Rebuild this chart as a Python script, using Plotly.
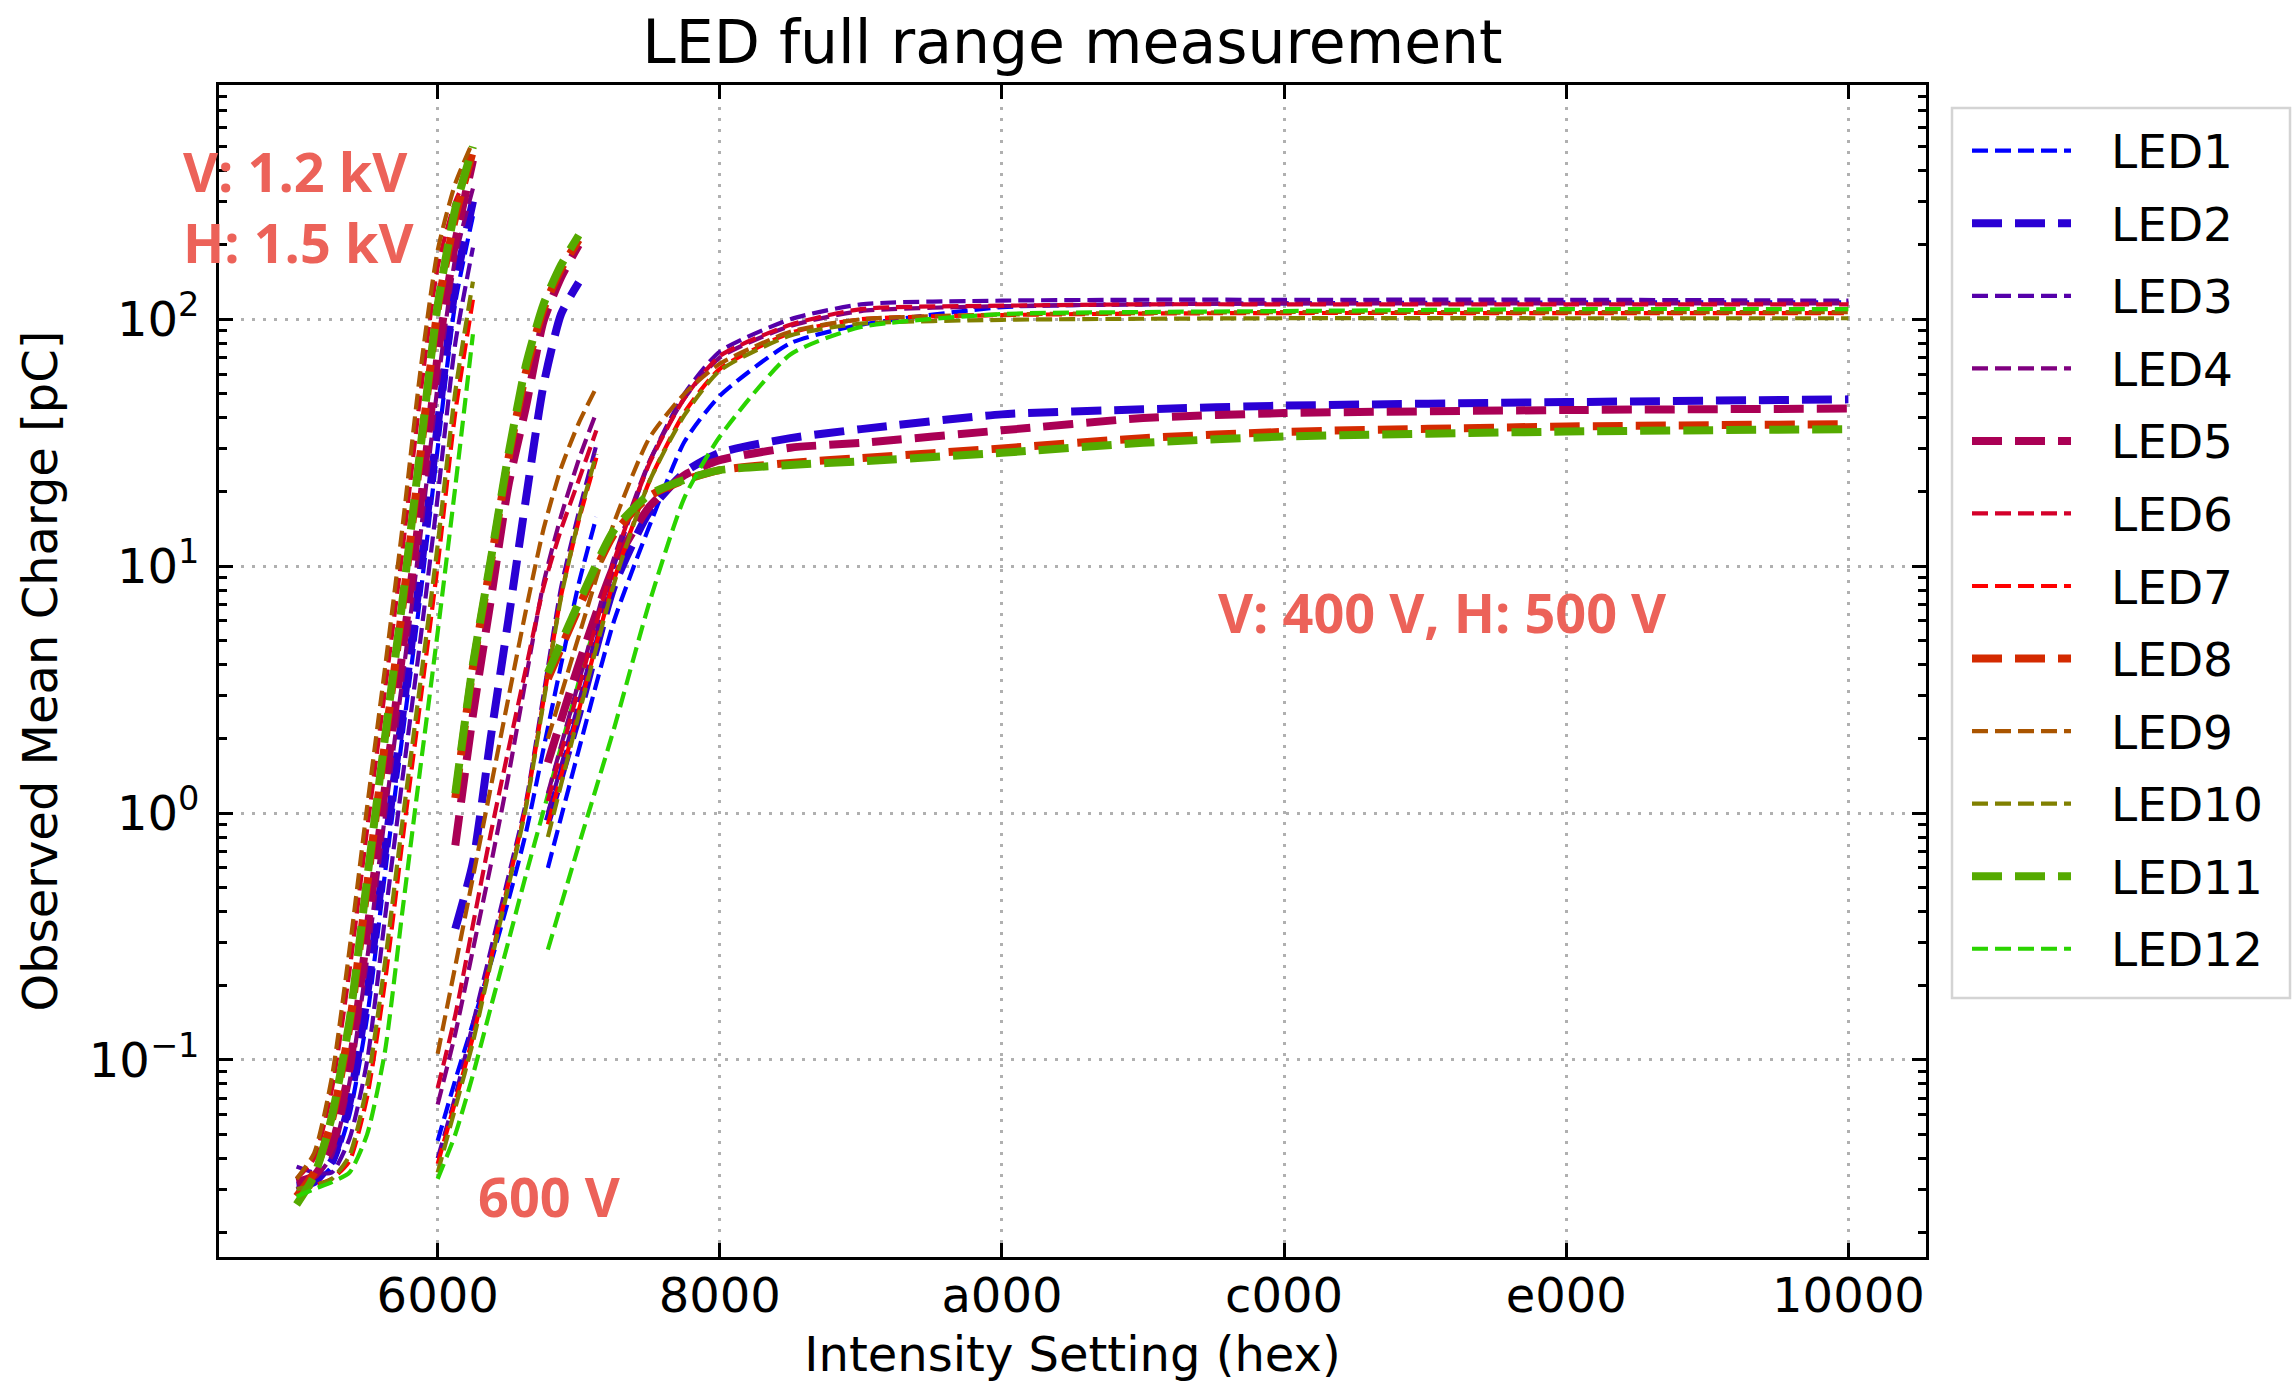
import plotly.graph_objects as go

# ---------------- data ----------------
LEDS = ["LED1", "LED2", "LED3", "LED4", "LED5", "LED6",
        "LED7", "LED8", "LED9", "LED10", "LED11", "LED12"]
COLORS = ["#0000ff", "#2a00d4", "#5500aa", "#800080", "#aa0055", "#d4002a",
          "#ff0000", "#d42a00", "#aa5500", "#808000", "#55aa00", "#2ad400"]
THICK = ["LED2", "LED5", "LED8", "LED11"]

# intensity settings (hex) for each voltage setting
X_HIGH = [0x5000, 0x5200, 0x5400, 0x5600, 0x5800, 0x5A00, 0x5C00, 0x5E00, 0x6000, 0x6200, 0x6400]
X_600_THIN = [0x6000, 0x6200, 0x6400, 0x6600, 0x6800, 0x6A00, 0x6C00, 0x6E00, 0x7000, 0x7200]
X_600_THICK = [0x6200, 0x6400, 0x6600, 0x6800, 0x6A00, 0x6C00, 0x6E00, 0x7000]
X_LOW = [0x6C80, 0x7000, 0x7400, 0x7800, 0x7C00, 0x8000, 0x8800, 0x9000,
         0xA000, 0xB000, 0xC000, 0xE000, 0x10000]

# V: 1.2 kV, H: 1.5 kV
Q_HIGH = {
    "LED1":  [0.030, 0.032, 0.037, 0.060, 0.149, 0.56, 2.05, 7.4, 30, 117, 262],
    "LED2":  [0.031, 0.032, 0.039, 0.067, 0.183, 0.69, 2.5, 9.1, 37, 137, 300],
    "LED3":  [0.037, 0.035, 0.035, 0.048, 0.099, 0.37, 1.37, 4.9, 19.1, 80, 195],
    "LED4":  [0.030, 0.033, 0.041, 0.081, 0.256, 0.96, 3.46, 12.9, 54, 177, 339],
    "LED5":  [0.032, 0.034, 0.045, 0.093, 0.33, 1.24, 4.45, 17, 71, 205, 440],
    "LED6":  [0.033, 0.040, 0.076, 0.23, 0.86, 3.1, 11.5, 48, 163, 300, 420],
    "LED7":  [0.029, 0.031, 0.033, 0.039, 0.071, 0.204, 0.77, 2.77, 10.1, 42, 120],
    "LED8":  [0.028, 0.035, 0.057, 0.137, 0.51, 1.89, 6.8, 27.5, 110, 260, 480],
    "LED9":  [0.033, 0.042, 0.085, 0.28, 1.06, 3.8, 14.3, 60, 190, 355, 525],
    "LED10": [0.030, 0.031, 0.033, 0.041, 0.079, 0.244, 0.92, 3.3, 12.2, 51, 142],
    "LED11": [0.026, 0.034, 0.059, 0.144, 0.54, 1.99, 7.2, 29, 114, 280, 500],
    "LED12": [0.028, 0.030, 0.032, 0.035, 0.050, 0.107, 0.40, 1.49, 5.4, 21, 87],
}

# 600 V
Q_600 = {
    "LED1":  [0.047, 0.083, 0.141, 0.245, 0.44, 0.83, 1.82, 4.0, 8.5, 15.8],
    "LED2":  [0.34, 0.63, 2.0, 6.0, 18.6, 54, 105, 141],
    "LED3":  [0.040, 0.071, 0.140, 0.277, 0.55, 1.10, 3.0, 8.2, 16.5, 31],
    "LED4":  [0.066, 0.128, 0.28, 0.61, 1.4, 3.5, 8.5, 16, 27, 42],
    "LED5":  [0.74, 2.5, 7.2, 21, 44, 98, 148, 200],
    "LED6":  [0.077, 0.152, 0.353, 0.82, 1.79, 3.84, 8.2, 14.1, 22.3, 35.5],
    "LED7":  [0.038, 0.068, 0.124, 0.253, 0.515, 1.07, 2.86, 7.6, 15.3, 27.5],
    "LED8":  [1.15, 3.9, 10.2, 27, 61, 110, 160, 210],
    "LED9":  [0.106, 0.24, 0.55, 1.26, 2.9, 6.6, 14.1, 25, 38, 53],
    "LED10": [0.035, 0.064, 0.118, 0.245, 0.50, 1.05, 2.8, 7.5, 15.5, 28.5],
    "LED11": [1.2, 4.0, 10.5, 28, 65, 115, 166, 219],
    "LED12": [0.033, 0.050, 0.087, 0.162, 0.30, 0.56, 1.02, 1.86, 3.4, 6.0],
}

# V: 400 V, H: 500 V
Q_LOW = {
    "LED1":  [0.6, 1.8, 6.0, 14.5, 32, 49, 80, 95, 112, 115, 116, 117, 117],
    "LED2":  [0.93, 2.5, 8.3, 16.6, 24, 28.8, 33, 35.9, 41.2, 43.2, 44.7, 46.2, 47.4],
    "LED3":  [1.0, 2.8, 10, 26.3, 50, 74, 100, 115, 119, 120, 120, 120, 119],
    "LED4":  [1.2, 3.4, 10.8, 26.5, 48, 70, 94, 108, 113, 115, 116, 116, 116],
    "LED5":  [1.6, 4.0, 10, 17.4, 23.4, 26.9, 30.2, 31.6, 35.5, 39.8, 41.7, 42.9, 43.5],
    "LED6":  [1.12, 3.2, 10.5, 26, 48, 71, 95, 110, 113.5, 115, 115, 115, 115],
    "LED7":  [0.9, 2.6, 8.8, 22, 42, 63, 88, 100, 104, 105.5, 106, 106, 106],
    "LED8":  [3.5, 6.8, 13.5, 19.2, 22.3, 24.5, 26.2, 27.4, 30, 33, 35, 36.8, 37.6],
    "LED9":  [2.0, 5.2, 15, 33, 50, 66, 89, 100, 104.5, 106, 107, 107, 107],
    "LED10": [0.8, 2.5, 8.5, 22, 41, 62, 86, 96, 99.5, 100.5, 101, 101, 101],
    "LED11": [3.7, 7.1, 14, 19.5, 22.4, 24.5, 25.7, 26.6, 28.8, 31.6, 33.5, 35.1, 35.9],
    "LED12": [0.28, 0.74, 2.2, 7.1, 19, 33.5, 72, 93, 105, 107, 108, 110, 110],
}

X_TICKS = [0x6000, 0x8000, 0xA000, 0xC000, 0xE000, 0x10000]
X_TICKTEXT = ["6000", "8000", "a000", "c000", "e000", "10000"]
Y_TICKS = [0.1, 1, 10, 100]
Y_TICKTEXT = ["10<sup>\u22121</sup>", "10<sup>0</sup>", "10<sup>1</sup>", "10<sup>2</sup>"]
Y_MINOR = [m * 10.0 ** e for e in (-2, -1, 0, 1, 2) for m in range(2, 10)]

X_RANGE = [18227.2, 67788.8]
Y_RANGE = [-1.798, 2.949]

# ---------------- styles / geometry ----------------
W, H = 2294, 1382
PL, PR, PT, PB = 219, 1926, 85, 1257
PW, PH = PR - PL, PB - PT
FONT = "DejaVu Sans"
NOTE_COLOR = "#ec6259"


def style(name):
    if name in THICK:
        return dict(width=8, dash="30px,13px")
    return dict(width=4.2, dash="16px,7px")


def px2paper_x(px):
    return (px - PL) / PW


def px2paper_y(py):
    return (PB - py) / PH


fig = go.Figure()

for xs, table in ((X_HIGH, Q_HIGH), (None, Q_600), (X_LOW, Q_LOW)):
    for name, color in zip(LEDS, COLORS):
        if xs is None:
            xv = X_600_THICK if name in THICK else X_600_THIN
        else:
            xv = xs
        st = style(name)
        fig.add_trace(go.Scatter(
            x=xv, y=table[name], mode="lines", name=name, showlegend=False,
            line=dict(color=color, width=st["width"], dash=st["dash"],
                      shape="spline", smoothing=0.6),
            hoverinfo="skip",
        ))

# ---------------- manual legend ----------------
shapes = []
annotations = []
bx0, bx1, by0, by1 = 1952, 2290, 108, 998
shapes.append(dict(type="rect", xref="paper", yref="paper",
                   x0=px2paper_x(bx0), x1=px2paper_x(bx1),
                   y0=px2paper_y(by1), y1=px2paper_y(by0),
                   line=dict(color="#d4d4d4", width=2.5), fillcolor="white",
                   layer="above"))
for k, (name, color) in enumerate(zip(LEDS, COLORS)):
    yc = 150.7 + 72.55 * k
    st = style(name)
    shapes.append(dict(type="line", xref="paper", yref="paper",
                       x0=px2paper_x(1972), x1=px2paper_x(2071),
                       y0=px2paper_y(yc), y1=px2paper_y(yc),
                       line=dict(color=color, width=st["width"], dash=st["dash"]),
                       layer="above"))
    annotations.append(dict(text=name, xref="paper", yref="paper",
                            x=px2paper_x(2109), y=px2paper_y(yc + 1),
                            xanchor="left", yanchor="middle", showarrow=False,
                            font=dict(family=FONT, size=47, color="black")))

# ---------------- text notes ----------------
notes = [("V: 1.2 kV", 181, 171), ("H: 1.5 kV", 181, 242),
         ("600 V", 476, 1196), ("V: 400 V, H: 500 V", 1216, 612)]
for txt, lx, cy in notes:
    annotations.append(dict(text=txt, xref="paper", yref="paper",
                            x=px2paper_x(lx), y=px2paper_y(cy),
                            xanchor="left", yanchor="middle", showarrow=False,
                            font=dict(family="Open Sans", size=54, color=NOTE_COLOR,
                                      weight="bold")))

axis_common = dict(
    showline=True, linewidth=3, linecolor="black", mirror="allticks",
    ticks="inside", ticklen=14, tickwidth=3, tickcolor="black",
    showgrid=True, gridcolor="#b0b0b0", gridwidth=3, griddash="3px,8px",
    zeroline=False, tickfont=dict(family=FONT, size=48, color="black"),
)

fig.update_layout(
    width=W, height=H,
    margin=dict(l=PL, r=W - PR, t=PT, b=H - PB, autoexpand=False),
    paper_bgcolor="white", plot_bgcolor="white",
    title=dict(text="LED full range measurement", x=0.5, xref="paper",
               y=1 - 42 / H, yref="container", yanchor="middle", xanchor="center",
               font=dict(family=FONT, size=60, color="black")),
    xaxis=dict(axis_common, range=X_RANGE, tickmode="array",
               tickvals=X_TICKS, ticktext=X_TICKTEXT, ticklabelstandoff=-6,
               title=dict(text="Intensity Setting (hex)", standoff=20,
                          font=dict(family=FONT, size=48, color="black"))),
    yaxis=dict(axis_common, type="log", range=Y_RANGE, tickmode="array",
               tickvals=Y_TICKS, ticktext=Y_TICKTEXT, ticklabelstandoff=7,
               minor=dict(tickmode="array", tickvals=Y_MINOR, ticks="inside",
                          ticklen=8, tickwidth=2.5, tickcolor="black", showgrid=False),
               title=dict(text="Observed Mean Charge [pC]", standoff=17,
                          font=dict(family=FONT, size=48, color="black"))),
    shapes=shapes, annotations=annotations, showlegend=False,
)

fig.write_html("out.html", config={"displayModeBar": False},
               post_script="document.body.style.margin='0';")
